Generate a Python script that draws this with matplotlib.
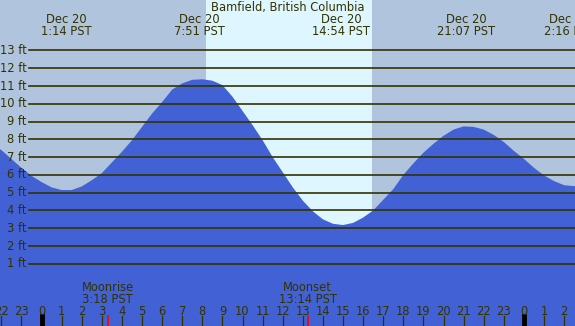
import matplotlib
matplotlib.use("Agg")
import matplotlib.pyplot as plt

# tide heights (ft), hours relative to Dec 20 00:00 PST
hours = [-2.07, -2.0, -1.5, -1.0, -0.5, 0.0, 0.5, 1.0, 1.5, 2.0, 2.5, 3.0, 3.5, 4.0,
         4.5, 5.0, 5.5, 6.0, 6.5, 7.0, 7.5, 8.0, 8.5, 9.0, 9.5, 10.0, 10.5, 11.0,
         11.5, 12.0, 12.5, 13.0, 13.5, 14.0, 14.5, 15.0, 15.5, 16.0, 16.5, 17.0,
         17.5, 18.0, 18.5, 19.0, 19.5, 20.0, 20.5, 21.0, 21.5, 22.0, 22.5, 23.0,
         23.5, 24.0, 24.5, 25.0, 25.5, 26.0, 26.5, 26.6]
tide_ft = [7.44, 7.40, 6.90, 6.40, 5.95, 5.60, 5.30, 5.15, 5.15, 5.35, 5.70, 6.10,
           6.70, 7.30, 7.95, 8.70, 9.45, 10.10, 10.80, 11.15, 11.35, 11.38, 11.30,
           11.05, 10.40, 9.60, 8.80, 7.95, 7.00, 6.15, 5.30, 4.55, 3.95, 3.50, 3.25,
           3.18, 3.30, 3.60, 4.00, 4.60, 5.20, 6.00, 6.65, 7.25, 7.75, 8.20, 8.55,
           8.73, 8.70, 8.55, 8.25, 7.85, 7.35, 6.90, 6.40, 5.97, 5.65, 5.42, 5.37, 5.38]

# extremes shown at the top
extreme_hours = [1.233, 7.85, 14.9, 21.117, 26.267]
extreme_labels = ["1:14 PST", "7:51 PST", "14:54 PST", "21:07 PST", "2:16 PST"]

sunrise, sunset = 8.18, 16.44
moon_hours = [3.3, 13.233]
moon_labels = ["Moonrise\n3:18 PST", "Moonset\n13:14 PST"]

ft_levels = list(range(1, 14))
hour_ticks = list(range(-2, 27))

BG = "#B0C4DE"
DAY = "#DDF6FF"
WATER = "#4161D5"
INK = "#333300"

fig = plt.figure(figsize=(5.75, 3.26), dpi=100)
ax = fig.add_axes([0, 0, 1, 1])
ax.set_xlim(-2.065, 26.54)
ax.set_ylim(-2.5, 15.84)
ax.set_facecolor(BG)
ax.axis("off")
ax.add_patch(plt.Rectangle((0, 0), 1, 1, transform=ax.transAxes, fc=BG, zorder=0))

ax.axvspan(sunrise, sunset, color=DAY, lw=0, zorder=1)
ax.fill_between(hours, tide_ft, -3, color=WATER, lw=0, zorder=2)

for ft in ft_levels:
    ax.axhline(ft, xmin=0.051, xmax=1, color=INK, lw=1.2, zorder=3)
    ax.text(-0.75, ft, "%d ft" % ft, ha="right", va="center", fontsize=8.3,
            color=INK, zorder=4)

ax.text(0.5, 0.978, "Bamfield, British Columbia", transform=ax.transAxes,
        ha="center", va="center", fontsize=8.3, color=INK, zorder=4)

for h, lab in zip(extreme_hours, extreme_labels):
    ax.text(h, 0.94, "Dec 20", transform=ax.get_xaxis_transform(), ha="center",
            va="center", fontsize=8.3, color=INK, zorder=4)
    ax.text(h, 0.902, lab, transform=ax.get_xaxis_transform(), ha="center",
            va="center", fontsize=8.3, color=INK, zorder=4)

for h, lab in zip(moon_hours, moon_labels):
    ax.text(h, 0.1, lab, transform=ax.get_xaxis_transform(), ha="center",
            va="center", fontsize=8.3, color=INK, linespacing=0.95, zorder=4)
    ax.plot([h, h], [0, 0.03], transform=ax.get_xaxis_transform(), color="red",
            lw=1.2, zorder=4)

for h in hour_ticks:
    midnight = h % 24 == 0
    ax.plot([h, h], [0, 0.03], transform=ax.get_xaxis_transform(),
            color="black" if midnight else INK, lw=3.5 if midnight else 0.9, zorder=4)
    ax.text(h, 0.044, str(h % 24), transform=ax.get_xaxis_transform(), ha="center",
            va="center", fontsize=8.3, color=INK, zorder=4)

fig.savefig("out.png", dpi=100, facecolor=BG)
